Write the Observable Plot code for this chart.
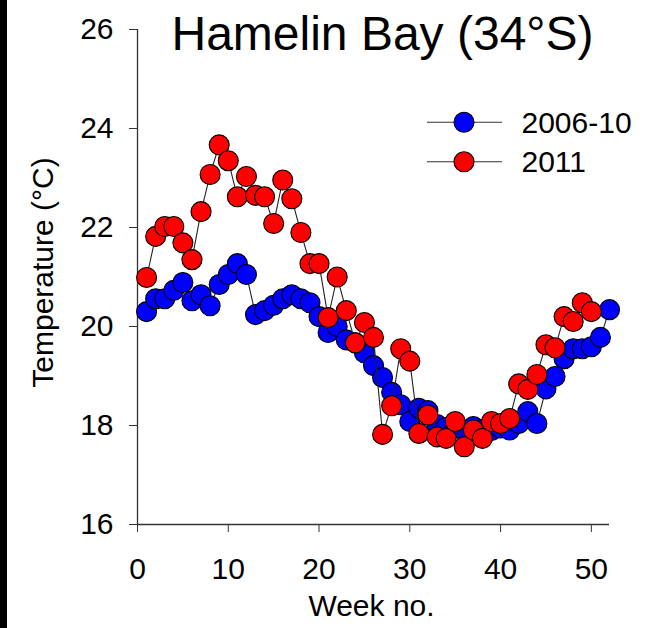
<!DOCTYPE html>
<html>
<head>
<meta charset="utf-8">
<script src="https://cdn.jsdelivr.net/npm/d3@7"></script>
<script src="https://cdn.jsdelivr.net/npm/@observablehq/plot@0.6"></script>
<style>
html, body { margin: 0; padding: 0; background: #fff; }
body { width: 668px; height: 628px; overflow: hidden; position: relative; }
#strip { position: absolute; left: 0; top: 0; width: 7px; height: 628px; background: #000; z-index: 2; }
#chart { position: absolute; left: 0; top: 0; }
</style>
</head>
<body>
<div id="strip"></div>
<div id="chart"></div>
<script>
const title = "Hamelin Bay (34°S)";
const xLabel = "Week no.";
const yLabel = "Temperature (°C)";
const seriesNames = ["2006-10", "2011"];
const seriesColors = ["#0000ff", "#ff0000"];
const xTicks = [0, 10, 20, 30, 40, 50];
const yTicks = [16, 18, 20, 22, 24, 26];

const weeksA = [1,2,3,4,5,6,7,8,9,10,11,12,13,14,15,16,17,18,19,20,21,22,23,24,25,26,
                27,28,29,30,31,32,33,34,35,36,37,38,39,40,41,42,43,44,45,46,47,48,49,50,51,52];
const tempA = [20.30,20.56,20.56,20.73,20.89,20.52,20.64,20.42,20.85,21.05,21.27,21.05,20.24,
               20.32,20.43,20.56,20.64,20.56,20.48,20.20,19.88,20.00,19.73,19.67,19.47,19.21,
               18.97,18.67,18.42,18.08,18.35,18.30,18.02,17.96,17.95,17.90,17.98,17.92,17.90,
               17.95,17.91,18.04,18.28,18.04,18.74,18.99,19.35,19.55,19.55,19.59,19.78,20.34];

const weeksB = [1,2,3,4,5,6,7,8,9,10,11,12,13,14,15,16,17,18,19,20,21,22,23,24,25,26,
                27,28,29,30,31,32,33,34,35,36,37,38,39,40,41,42,43,44,45,46,47,48,49,50];
const tempB = [20.99,21.82,22.02,22.02,21.69,21.35,22.32,23.07,23.67,23.35,22.62,23.03,22.65,
               22.62,22.08,22.96,22.58,21.90,21.27,21.27,20.18,21.00,20.32,19.67,20.08,19.78,
               17.82,18.40,19.55,19.30,17.84,18.21,17.77,17.74,18.08,17.57,17.91,17.74,18.08,
               18.04,18.14,18.84,18.73,19.03,19.63,19.57,20.20,20.10,20.48,20.30];

const rowsA = weeksA.map((w, i) => ({week: w, temp: tempA[i]}));
const rowsB = weeksB.map((w, i) => ({week: w, temp: tempB[i]}));

const font = "'Liberation Sans', Arial, Helvetica, sans-serif";

const plot = Plot.plot({
  width: 668,
  height: 628,
  marginLeft: 137,
  marginRight: 59,
  marginTop: 29,
  marginBottom: 104,
  style: {fontFamily: font, background: "white", color: "black", overflow: "visible"},
  x: {domain: [0, 52]},
  y: {domain: [16, 26]},
  marks: [
    Plot.axisX({ticks: xTicks, tickSize: 8, tickPadding: 25, fontSize: 30, label: null, stroke: "#333", fill: "black"}),
    Plot.axisY({ticks: yTicks, tickSize: 8, tickPadding: 16, fontSize: 30, label: null, stroke: "#333", fill: "black"}),
    Plot.ruleX([0], {stroke: "#333", strokeWidth: 1.3}),
    Plot.ruleY([16], {stroke: "#333", strokeWidth: 1.3}),
    Plot.line(rowsA, {x: "week", y: "temp", stroke: "#222", strokeWidth: 1.1}),
    Plot.dot(rowsA, {x: "week", y: "temp", r: 10, fill: seriesColors[0], stroke: "black", strokeWidth: 1.1}),
    Plot.line(rowsB, {x: "week", y: "temp", stroke: "#222", strokeWidth: 1.1}),
    Plot.dot(rowsB, {x: "week", y: "temp", r: 10, fill: seriesColors[1], stroke: "black", strokeWidth: 1.1}),
    Plot.text([title], {frameAnchor: "top", fontSize: 48, dx: 9, dy: 5.5, lineAnchor: "middle", textAnchor: "middle", fill: "black"}),
    Plot.text([xLabel], {frameAnchor: "bottom", fontSize: 30, dx: -2, dy: 82, lineAnchor: "middle", textAnchor: "middle", fill: "black"}),
    Plot.text([yLabel], {frameAnchor: "left", fontSize: 30, rotate: -90, dx: -94.5, dy: -4.5, lineAnchor: "middle", textAnchor: "middle", fill: "black"})
  ]
});

document.getElementById("chart").appendChild(plot);

// Legend
const svg = d3.select(plot);
const legend = svg.append("g").attr("font-family", font).attr("font-size", 30).attr("text-anchor", "start");
const legendRows = [122.3, 161.7];
seriesNames.forEach((name, i) => {
  const g = legend.append("g").attr("transform", `translate(0,${legendRows[i]})`);
  g.append("line").attr("x1", 427).attr("x2", 502).attr("y1", 0).attr("y2", 0)
    .attr("stroke", "#333").attr("stroke-width", 1.1);
  g.append("circle").attr("cx", 464).attr("cy", 0).attr("r", 10)
    .attr("fill", seriesColors[i]).attr("stroke", "black").attr("stroke-width", 1.1);
  g.append("text").attr("x", 521.5).attr("y", 0).attr("dy", "0.35em")
    .attr("text-anchor", "start").attr("fill", "black").text(name);
});
</script>
</body>
</html>
